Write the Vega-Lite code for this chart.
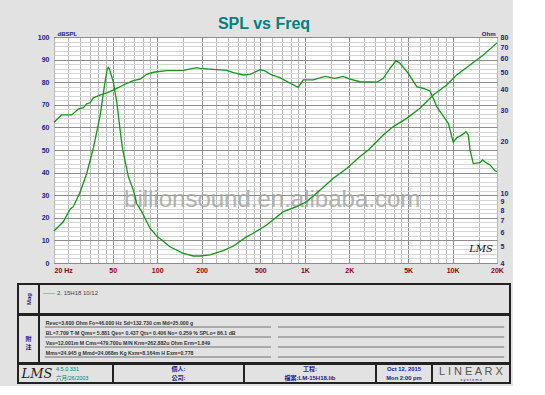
{
  "$schema": "https://vega.github.io/schema/vega-lite/v6.json",
  "background": "#e2e2e2",
  "padding": {"left": 17, "top": 15, "right": 2, "bottom": 2},
  "config": {"font": "Liberation Sans", "view": {"stroke": null}},
  "title": {"text": "SPL vs Freq", "fontSize": 16, "fontWeight": "bold", "color": "#008080", "font": "Liberation Sans", "anchor": "middle", "offset": -2},
  "datasets": {
    "spl": [
      {"f": 20, "db": 62.3}, {"f": 22.5, "db": 65.5}, {"f": 26.4, "db": 65.5}, {"f": 29.2, "db": 68.1},
      {"f": 31.6, "db": 68.7}, {"f": 33.3, "db": 70.4}, {"f": 35.1, "db": 70.9}, {"f": 36.9, "db": 73.1},
      {"f": 41, "db": 74.3}, {"f": 46.6, "db": 75.5}, {"f": 53.2, "db": 77.3}, {"f": 60.5, "db": 79.1},
      {"f": 68.9, "db": 80.7}, {"f": 76.5, "db": 81.3}, {"f": 84.9, "db": 83.5}, {"f": 94.1, "db": 84.4},
      {"f": 116, "db": 85.1}, {"f": 150, "db": 85.2}, {"f": 185, "db": 86.4}, {"f": 195, "db": 86.1},
      {"f": 240, "db": 85.7}, {"f": 295, "db": 85.2}, {"f": 328, "db": 84.2}, {"f": 383, "db": 83.2},
      {"f": 425, "db": 83.5}, {"f": 497, "db": 85.5}, {"f": 537, "db": 85.0}, {"f": 596, "db": 83.2},
      {"f": 678, "db": 82.0}, {"f": 772, "db": 80.0}, {"f": 902, "db": 77.7}, {"f": 975, "db": 81.0},
      {"f": 1140, "db": 81.0}, {"f": 1368, "db": 82.6}, {"f": 1599, "db": 81.7}, {"f": 1820, "db": 82.6},
      {"f": 2021, "db": 81.4}, {"f": 2362, "db": 80.2}, {"f": 3064, "db": 80.0}, {"f": 3396, "db": 81.7},
      {"f": 3771, "db": 86.1}, {"f": 4140, "db": 89.5}, {"f": 4406, "db": 88.4}, {"f": 5017, "db": 83.9},
      {"f": 5716, "db": 78.0}, {"f": 6508, "db": 77.0}, {"f": 7035, "db": 76.1}, {"f": 7406, "db": 72.9},
      {"f": 7810, "db": 69.2}, {"f": 8658, "db": 65.0}, {"f": 9360, "db": 61.8}, {"f": 10116, "db": 53.4},
      {"f": 10666, "db": 55.4}, {"f": 11534, "db": 56.6}, {"f": 12332, "db": 58.1}, {"f": 12785, "db": 56.6},
      {"f": 13130, "db": 50.0}, {"f": 13822, "db": 44.0}, {"f": 15339, "db": 44.4}, {"f": 15998, "db": 45.6},
      {"f": 16844, "db": 44.4}, {"f": 17930, "db": 43.4}, {"f": 19384, "db": 40.8}, {"f": 20000, "db": 40.4}
    ],
    "imp": [
      {"f": 20, "ohm": 6.11}, {"f": 23.1, "ohm": 6.91}, {"f": 25.8, "ohm": 8.18}, {"f": 27.0, "ohm": 8.44},
      {"f": 30.0, "ohm": 10.2}, {"f": 33.3, "ohm": 13.1}, {"f": 36.9, "ohm": 18.3}, {"f": 41.0, "ohm": 28.0},
      {"f": 44.3, "ohm": 44.0}, {"f": 45.9, "ohm": 52.5}, {"f": 46.6, "ohm": 53.5}, {"f": 47.4, "ohm": 52.5},
      {"f": 50.4, "ohm": 44.3}, {"f": 53.2, "ohm": 33.9}, {"f": 56.6, "ohm": 21.8}, {"f": 58.4, "ohm": 17.9},
      {"f": 63.7, "ohm": 12.6}, {"f": 68.9, "ohm": 10.5}, {"f": 72.6, "ohm": 8.8}, {"f": 78.5, "ohm": 7.9},
      {"f": 84.9, "ohm": 6.91}, {"f": 89.4, "ohm": 6.34}, {"f": 99.2, "ohm": 5.72}, {"f": 122, "ohm": 4.96},
      {"f": 150, "ohm": 4.55}, {"f": 175.5, "ohm": 4.39}, {"f": 195, "ohm": 4.39}, {"f": 228, "ohm": 4.45},
      {"f": 280, "ohm": 4.71}, {"f": 328, "ohm": 5.01}, {"f": 404, "ohm": 5.67}, {"f": 447, "ohm": 5.93},
      {"f": 551, "ohm": 6.62}, {"f": 714, "ohm": 7.9}, {"f": 880, "ohm": 8.44}, {"f": 1028, "ohm": 9.01},
      {"f": 1266, "ohm": 10.5}, {"f": 1558, "ohm": 12.3}, {"f": 1919, "ohm": 14.0}, {"f": 2362, "ohm": 16.4},
      {"f": 2688, "ohm": 17.9}, {"f": 3396, "ohm": 21.8}, {"f": 3970, "ohm": 24.4}, {"f": 4890, "ohm": 27.2},
      {"f": 6018, "ohm": 31.1}, {"f": 7406, "ohm": 37.1}, {"f": 9126, "ohm": 42.4}, {"f": 10666, "ohm": 48.4},
      {"f": 13130, "ohm": 55.2}, {"f": 16154, "ohm": 63.0}, {"f": 20000, "ohm": 74.0}
    ]
  },
  "spacing": 9,
  "vconcat": [
    {
      "spacing": 0,
      "hconcat": [
        {
          "width": 32,
          "height": 226,
          "data": {"values": [{}]},
          "mark": {"type": "point", "opacity": 0},
          "encoding": {
            "y": {
              "datum": 50, "type": "quantitative",
              "scale": {"domain": [0, 100], "nice": false},
              "axis": {
                "orient": "left",
                "offset": -32,
                "title": null,
                "values": [0,10,20,30,40,50,60,70,80,90,100],
                "grid": false,
                "ticks": false,
                "domain": false,
                "labelColor": "#1a1a8c",
                "labelFontSize": 7,
                "labelFontWeight": "bold",
                "labelPadding": 1,
                "labelOverlap": false,
                "labelBound": false
              }
            }
          }
        },
        {
          "width": 443,
          "height": 226,
          "view": {"fill": "white", "stroke": "#000", "strokeWidth": 1},
          "resolve": {"scale": {"y": "independent"}, "axis": {"y": "independent"}},
          "layer": [
            {
              "data": {"values": [{}]},
              "mark": {"type": "text", "text": "billionsound.en.alibaba.com", "fontSize": 24, "font": "Liberation Sans", "color": "#a6a6a6", "opacity": 0.85, "baseline": "middle"},
              "encoding": {
                "x": {"datum": 600, "type": "quantitative"},
                "y": {"datum": 28, "type": "quantitative", "scale": {"domain": [0, 100], "nice": false}, "axis": null}
              }
            },
            {
              "data": {"values": [{}]},
              "mark": {"type": "text", "text": "LMS", "fontSize": 10, "fontStyle": "italic", "font": "DejaVu Serif", "color": "#111", "baseline": "middle"},
              "encoding": {
                "x": {"datum": 15600, "type": "quantitative"},
                "y": {"datum": 6, "type": "quantitative", "scale": {"domain": [0, 100], "nice": false}, "axis": null}
              }
            },
            {
              "data": {"name": "spl"},
              "mark": {"type": "line", "color": "#17961c", "strokeWidth": 1.3},
              "encoding": {
                "x": {
                  "field": "f", "type": "quantitative",
                  "scale": {"type": "log", "domain": [20, 20000], "nice": false},
                  "axis": {
                    "title": null,
                    "values": [20,25,30,35,40,45,50,60,70,80,90,100,150,200,250,300,350,400,450,500,600,700,800,900,1000,1500,2000,2500,3000,3500,4000,4500,5000,6000,7000,8000,9000,10000,15000,20000],
                    "labelExpr": "datum.value==20?'20  Hz':datum.value==50?'50':datum.value==100?'100':datum.value==200?'200':datum.value==500?'500':datum.value==1000?'1K':datum.value==2000?'2K':datum.value==5000?'5K':datum.value==10000?'10K':datum.value==20000?'20K':''",
                    "grid": true,
                    "gridColor": {"condition": {"test": "indexof([50,100,200,500,1000,2000,5000,10000], datum.value) >= 0", "value": "#8c8c8c"}, "value": "#b8b8b8"},
                    "ticks": false,
                    "domain": false,
                    "labelColor": "#990000",
                    "labelFontSize": 7,
                    "labelFontWeight": "bold",
                    "labelPadding": 3,
                    "labelOverlap": false,
                    "labelBound": false,
                    "labelFlush": false,
                    "labelAlign": {"condition": {"test": "datum.value == 20", "value": "left"}, "value": "center"}
                  }
                },
                "y": {
                  "field": "db", "type": "quantitative",
                  "scale": {"domain": [0, 100], "nice": false},
                  "axis": {
                    "orient": "left",
                    "title": "dBSPL",
                    "titleAngle": 0,
                    "titleAlign": "left",
                    "titleBaseline": "alphabetic",
                    "titleX": 3,
                    "titleY": -2,
                    "titleFontSize": 6,
                    "titleFontWeight": "bold",
                    "titleColor": "#1a1a8c",
                    "values": [0,2,4,6,8,10,12,14,16,18,20,22,24,26,28,30,32,34,36,38,40,42,44,46,48,50,52,54,56,58,60,62,64,66,68,70,72,74,76,78,80,82,84,86,88,90,92,94,96,98,100],
                    "labels": false,
                    "grid": true,
                    "gridColor": {"condition": {"test": "datum.value % 10 == 0", "value": "#8c8c8c"}, "value": "#d4d4d4"},
                    "ticks": false,
                    "domain": false
                  }
                }
              }
            },
            {
              "data": {"name": "imp"},
              "mark": {"type": "line", "color": "#17961c", "strokeWidth": 1.3},
              "encoding": {
                "x": {"field": "f", "type": "quantitative"},
                "y": {
                  "field": "ohm", "type": "quantitative",
                  "scale": {"type": "log", "domain": [4, 80], "nice": false},
                  "axis": {
                    "orient": "right",
                    "title": "Ohm",
                    "titleAngle": 0,
                    "titleAlign": "right",
                    "titleBaseline": "alphabetic",
                    "titleX": -2,
                    "titleY": -2,
                    "titleFontSize": 6,
                    "titleFontWeight": "bold",
                    "titleColor": "#1a1a8c",
                    "values": [4,5,6,7,8,9,10,20,30,40,50,60,70,80],
                    "grid": false,
                    "ticks": false,
                    "domain": false,
                    "labelColor": "#1a1a8c",
                    "labelFontSize": 7,
                    "labelFontWeight": "bold",
                    "labelPadding": 3,
                    "labelOverlap": false,
                    "labelBound": false
                  }
                }
              }
            }
          ]
        }
      ]
    },
    {
      "spacing": -2,
      "vconcat": [
        {
          "bounds": "flush",
          "spacing": 0,
          "hconcat": [
            {
              "width": 21, "height": 30,
              "view": {"stroke": "#222", "strokeWidth": 2},
              "data": {"values": [{"t": "Mag"}]},
              "mark": {"type": "text", "angle": 270, "fontSize": 6, "fontWeight": "bold", "color": "#1a1a8c"},
              "encoding": {"text": {"field": "t"}}
            },
            {
              "width": 471, "height": 30,
              "view": {"stroke": "#222", "strokeWidth": 2},
              "data": {"values": [{"c": "a", "t": "2. 15H18 10/12"}]},
              "layer": [
                {
                  "mark": {"type": "text", "text": "——", "color": "#17961c", "fontSize": 6, "align": "left", "baseline": "middle", "dx": 4, "dy": 9},
                  "encoding": {
                    "x": {"field": "c", "type": "nominal", "axis": null, "scale": {"type": "band", "paddingInner": 0, "paddingOuter": 0}, "bandPosition": 0},
                    "y": {"field": "c", "type": "nominal", "axis": null, "scale": {"type": "band", "paddingInner": 0, "paddingOuter": 0}, "bandPosition": 0}
                  }
                },
                {
                  "mark": {"type": "text", "color": "#444", "fontSize": 6, "align": "left", "baseline": "middle", "dx": 18, "dy": 9},
                  "encoding": {
                    "x": {"field": "c", "type": "nominal", "axis": null, "bandPosition": 0},
                    "y": {"field": "c", "type": "nominal", "axis": null, "bandPosition": 0},
                    "text": {"field": "t"}
                  }
                }
              ]
            }
          ]
        },
        {
          "bounds": "flush",
          "spacing": 0,
          "hconcat": [
            {
              "width": 21, "height": 48,
              "view": {"stroke": "#222", "strokeWidth": 2},
              "data": {"values": [{"t": "附\n注"}]},
              "mark": {"type": "text", "lineBreak": "\n", "fontSize": 6, "fontWeight": "bold", "color": "#1a1a8c", "font": "Noto Sans CJK TC"},
              "encoding": {"text": {"field": "t"}}
            },
            {
              "width": 471, "height": 48,
              "view": {"stroke": "#222", "strokeWidth": 2},
              "data": {"values": [
                {"col": "L", "line": 1, "t": "Revc=3.600 Ohm  Fo=46.000 Hz  Sd=132.730 cm   Md=25.000 g"},
                {"col": "L", "line": 2, "t": "BL=7.709 T·M  Qms= 5.881  Qes= 0.437  Qts= 0.406  No= 0.259 %  SPLo= 86.1 dB"},
                {"col": "L", "line": 3, "t": "Vas=12.001m M    Cms=479.700u M/N  Krm=262.882u Ohm  Erm=1.849"},
                {"col": "L", "line": 4, "t": "Mms=24.945 g  Mmd=24.068m Kg  Kxm=8.164m H  Exm=0.778"},
                {"col": "R", "line": 1, "t": ""},
                {"col": "R", "line": 2, "t": ""},
                {"col": "R", "line": 3, "t": ""},
                {"col": "R", "line": 4, "t": ""}
              ]},
              "layer": [
                {
                  "mark": {"type": "rule", "color": "#555", "strokeWidth": 0.8},
                  "encoding": {
                    "x": {"field": "col", "type": "nominal", "axis": null, "scale": {"type": "band", "paddingInner": 0.03, "paddingOuter": 0.025}, "bandPosition": 0},
                    "x2": {"field": "col", "bandPosition": 1},
                    "y": {"field": "line", "type": "ordinal", "axis": null, "scale": {"type": "band", "paddingInner": 0, "paddingOuter": 0.4, "align": 0.25}, "bandPosition": 1}
                  }
                },
                {
                  "transform": [{"filter": "datum.col == 'L'"}],
                  "mark": {"type": "text", "fontSize": 5.2, "fontWeight": "bold", "color": "#333", "align": "left", "baseline": "bottom", "dx": 1, "dy": -1},
                  "encoding": {
                    "x": {"field": "col", "type": "nominal", "axis": null, "bandPosition": 0},
                    "y": {"field": "line", "type": "ordinal", "axis": null, "bandPosition": 1},
                    "text": {"field": "t"}
                  }
                }
              ]
            }
          ]
        },
        {
          "bounds": "flush",
          "spacing": 0,
          "hconcat": [
            {
              "width": 95, "height": 19,
              "view": {"stroke": "#222", "strokeWidth": 2},
              "data": {"values": [
                {"p": "logo", "line": "1", "t": "LMS"},
                {"p": "ver", "line": "1", "t": "4.5.0.331"},
                {"p": "ver", "line": "2", "t": "六月/26/2003"}
              ]},
              "layer": [
                {
                  "transform": [{"filter": "datum.p == 'logo'"}],
                  "mark": {"type": "text", "fontSize": 13, "fontStyle": "italic", "font": "DejaVu Serif", "color": "#222", "baseline": "middle"},
                  "encoding": {
                    "x": {"field": "p", "type": "nominal", "axis": null, "scale": {"type": "band", "paddingInner": 0, "paddingOuter": 0}, "bandPosition": 0.4},
                    "text": {"field": "t"}
                  }
                },
                {
                  "transform": [{"filter": "datum.p == 'ver'"}],
                  "mark": {"type": "text", "fontSize": 5.5, "color": "#008080", "align": "left", "baseline": "middle", "font": "Liberation Sans, Noto Sans CJK TC"},
                  "encoding": {
                    "x": {"field": "p", "type": "nominal", "axis": null, "bandPosition": -0.2},
                    "y": {"field": "line", "type": "nominal", "axis": null, "scale": {"type": "band", "paddingInner": 0, "paddingOuter": 0.1}},
                    "text": {"field": "t"}
                  }
                }
              ]
            },
            {
              "width": 131, "height": 19,
              "view": {"stroke": "#222", "strokeWidth": 2},
              "data": {"values": [{"line": "1", "t": "個人:"}, {"line": "2", "t": "公司:"}]},
              "mark": {"type": "text", "fontSize": 6, "fontWeight": "bold", "color": "#1a1a8c", "baseline": "middle", "font": "Liberation Sans, Noto Sans CJK TC"},
              "encoding": {
                "y": {"field": "line", "type": "nominal", "axis": null, "scale": {"type": "band", "paddingInner": 0, "paddingOuter": 0.1}},
                "text": {"field": "t"}
              }
            },
            {
              "width": 132, "height": 19,
              "view": {"stroke": "#222", "strokeWidth": 2},
              "data": {"values": [{"line": "1", "t": "工程:"}, {"line": "2", "t": "檔案:LM-15H18.lib"}]},
              "mark": {"type": "text", "fontSize": 6, "fontWeight": "bold", "color": "#1a1a8c", "baseline": "middle", "font": "Liberation Sans, Noto Sans CJK TC"},
              "encoding": {
                "y": {"field": "line", "type": "nominal", "axis": null, "scale": {"type": "band", "paddingInner": 0, "paddingOuter": 0.1}},
                "text": {"field": "t"}
              }
            },
            {
              "width": 56, "height": 19,
              "view": {"stroke": "#222", "strokeWidth": 2},
              "data": {"values": [{"line": "1", "t": "Oct 12, 2015"}, {"line": "2", "t": "Mon  2:00 pm"}]},
              "mark": {"type": "text", "fontSize": 5.8, "fontWeight": "bold", "color": "#1a1a8c", "baseline": "middle"},
              "encoding": {
                "y": {"field": "line", "type": "nominal", "axis": null, "scale": {"type": "band", "paddingInner": 0, "paddingOuter": 0.1}},
                "text": {"field": "t"}
              }
            },
            {
              "width": 78, "height": 19,
              "view": {"stroke": "#222", "strokeWidth": 2},
              "data": {"values": [{"t": "L I N E A R X", "s": "s    y    s    t    e    m    s"}]},
              "layer": [
                {
                  "mark": {"type": "text", "fontSize": 11, "color": "#555", "baseline": "middle", "dy": -2},
                  "encoding": {"text": {"field": "t"}}
                },
                {
                  "mark": {"type": "text", "fontSize": 4, "color": "#1a1a8c", "baseline": "middle", "dy": 6},
                  "encoding": {"text": {"field": "s"}}
                }
              ]
            }
          ]
        }
      ]
    }
  ]
}
